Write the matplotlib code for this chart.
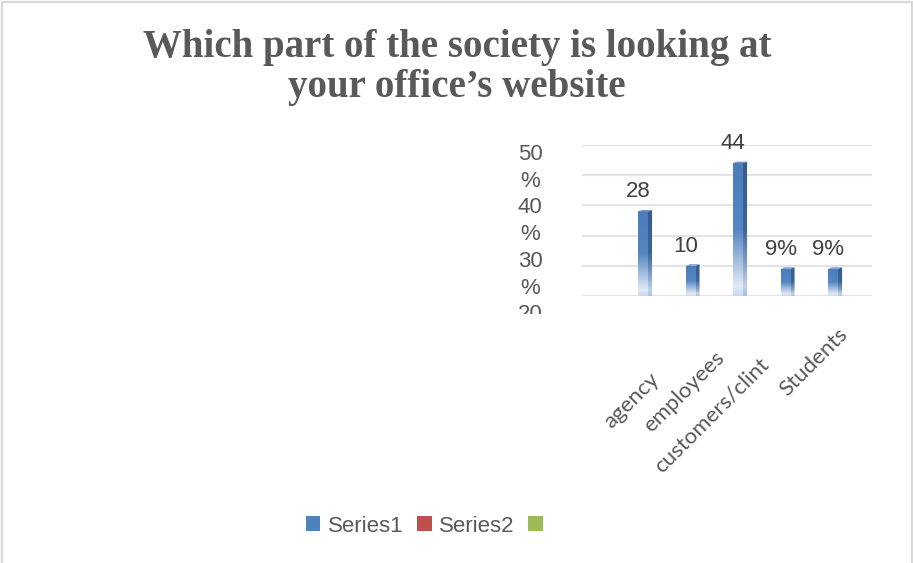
import numpy as np
import matplotlib
matplotlib.use("Agg")
import matplotlib.pyplot as plt
from matplotlib.patches import Polygon, Patch, Rectangle
from matplotlib.colors import to_rgba
from matplotlib.transforms import Bbox, TransformedBbox

# ---- chart content ----
title_lines = ["Which part of the society is looking at", "your office\u2019s website"]
categories = ["agency", "employees", "customers/clint", "Students"]
values = [28, 10, 44, 9, 9]
value_labels = ["28", "10", "44", "9%", "9%"]
y_gridlines = [0, 10, 20, 30, 40, 50]
y_tick_labels = ["50%", "40%", "30%", "20%"]
legend_labels = ["Series1", "Series2", ""]
legend_colors = ["#4F81BD", "#C0504D", "#9BBB59"]

W, H = 913, 563
TEXT = "#595959"
fig = plt.figure(figsize=(W / 100, H / 100), dpi=100)


def fig_xy(px, py):
    """Pixel position (from top-left) to figure fraction."""
    return px / W, 1 - py / H


def gradient(stops, n=256):
    t = np.linspace(0, 1, n)
    pos = [s[0] for s in stops]
    cols = np.array([to_rgba(s[1]) for s in stops])
    arr = np.stack([np.interp(t, pos, cols[:, c]) for c in range(4)], axis=-1)
    return arr.reshape(n, 1, 4)


front_grad = gradient([(0.0, "#C9D9EE"), (0.07, "#E1EAF5"), (0.25, "#A8C1E1"),
                       (0.5, "#5486C2"), (1.0, "#4A7DBA")])
side_grad = gradient([(0.0, "#A9BFDB"), (0.07, "#C2D2E7"), (0.25, "#7F9CC4"),
                      (0.5, "#3B6498"), (1.0, "#365C8C")])

# ---- plot area ----
ax = fig.add_axes([582 / W, 1 - 296 / H, 290 / W, 151 / H])
for s in ax.spines.values():
    s.set_visible(False)
ax.set_yticks(y_gridlines)
ax.set_xticks([])
ax.tick_params(axis="y", length=0, labelleft=False)
ax.yaxis.grid(True, color="#E4E4E4", linewidth=1.6)
ax.set_axisbelow(True)

x = np.arange(len(values))
bar_w, depth_x, depth_y = 0.21, 0.085, 0.5
bars = ax.bar(x, values, width=bar_w, color="none", edgecolor="none", zorder=2)

for rect, lbl in zip(bars.patches, value_labels):
    x0 = rect.get_x()
    x1 = x0 + rect.get_width()
    top = rect.get_height()
    im = ax.imshow(front_grad, extent=(x0, x1, 0, top), aspect="auto",
                   origin="lower", interpolation="bilinear", zorder=3)
    im.set_clip_path(rect)
    side = Polygon([(x1, 0), (x1 + depth_x, 0), (x1 + depth_x, top + depth_y), (x1, top)],
                   closed=True, facecolor="none", edgecolor="none", zorder=3)
    ax.add_patch(side)
    im2 = ax.imshow(side_grad, extent=(x1, x1 + depth_x, 0, top + depth_y), aspect="auto",
                    origin="lower", interpolation="bilinear", zorder=3)
    im2.set_clip_path(side)
    cap = Polygon([(x0, top), (x1, top), (x1 + depth_x, top + depth_y), (x0 + depth_x, top + depth_y)],
                  closed=True, facecolor="#6E98CE", edgecolor="none", zorder=4)
    ax.add_patch(cap)
    ax.annotate(lbl, xy=(x0 + bar_w / 2, top), xytext=(-5, 14), textcoords="offset pixels",
                ha="center", va="baseline", fontsize=16, color="#404040",
                family="Liberation Sans", zorder=5)

ax.set_xlim(-1.284, 4.82)
ax.set_ylim(0, 50)

# ---- value axis labels (wrapped, clipped at the bottom of the axis area) ----
clip = TransformedBbox(Bbox.from_extents(0, 1 - 314 / H, 1, 1), fig.transFigure)
lines = []
for lbl in y_tick_labels:
    lines += [lbl[:-1], "%"]
lines = lines[:-1]
for k, line in enumerate(lines):
    t = fig.text(*fig_xy(530, 152 + 26.7 * k + 8), line, ha="center", va="baseline",
                 fontsize=16, color=TEXT, family="Liberation Sans")
    t.set_clip_box(clip)
    t.set_clip_on(True)

# ---- category labels ----
label_anchors = [(656, 376), (721, 355), (766, 361), (845, 331)]
for name, (px, py) in zip(categories, label_anchors):
    fig.text(*fig_xy(px, py), name, rotation=45, rotation_mode="anchor",
             ha="right", va="center", fontsize=16, color=TEXT, family="Lato")

# ---- title ----
for line, base in zip(title_lines, [57, 97]):
    fig.text(*fig_xy(457, base), line, ha="center", va="baseline", fontsize=28,
             fontweight="bold", color=TEXT, family="Liberation Serif")

# ---- legend ----
handles = [Patch(facecolor=c, edgecolor="none") for c in legend_colors]
leg = fig.legend(handles, legend_labels, loc="center", bbox_to_anchor=fig_xy(428, 526),
                 ncol=3, frameon=False, handlelength=0.64, handleheight=0.64,
                 handletextpad=0.32, columnspacing=0.64,
                 prop={"family": "Liberation Sans", "size": 16})
for txt in leg.get_texts():
    txt.set_color(TEXT)

# ---- chart border ----
fig.add_artist(Rectangle(fig_xy(1.5, 580), (W - 3) / W, (580 - 1.5) / H,
                         transform=fig.transFigure, fill=False,
                         edgecolor="#D9D9D9", linewidth=1.6))

fig.savefig("out.png", dpi=100)
